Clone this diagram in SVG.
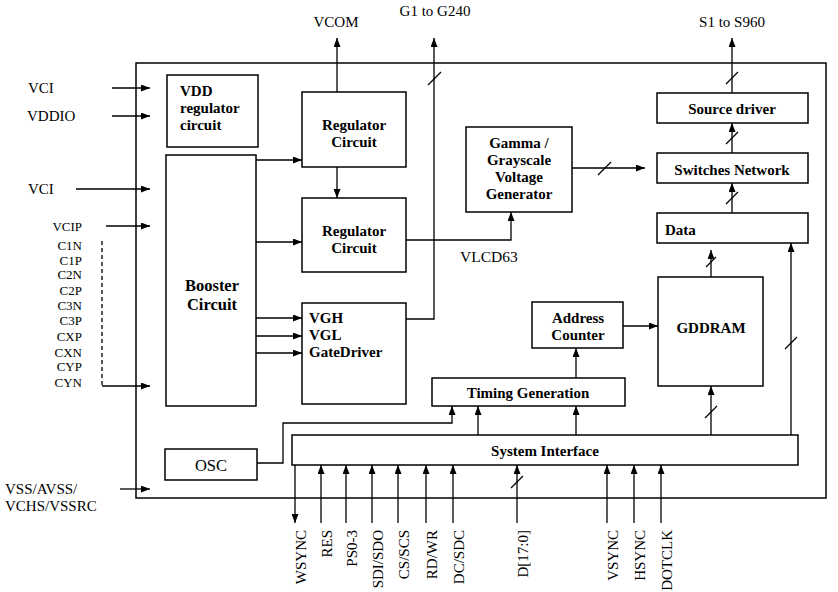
<svg xmlns="http://www.w3.org/2000/svg" width="838" height="592" viewBox="0 0 838 592">
<defs>
<marker id="ah" markerUnits="userSpaceOnUse" markerWidth="9" markerHeight="7" refX="9" refY="3.5" orient="auto">
<path d="M0,0 L9,3.5 L0,7 z" fill="#000"/>
</marker>
<style>
.box{fill:#fff;stroke:#000;stroke-width:1.5}
.ln{fill:none;stroke:#000;stroke-width:1.3}
.ar{fill:none;stroke:#000;stroke-width:1.3;marker-end:url(#ah)}
.b{font-family:"Liberation Serif","Times New Roman",serif;font-weight:bold;font-size:15px;fill:#000}
.t{font-family:"Liberation Serif","Times New Roman",serif;font-size:15px;fill:#000}
.s{font-family:"Liberation Serif","Times New Roman",serif;font-size:13px;fill:#000}
.big{font-size:16.5px}
.mid{font-size:15.5px}
.c{text-anchor:middle}
.e{text-anchor:end}
</style>
</defs>
<rect width="838" height="592" fill="#fff"/>
<rect x="136" y="63" width="690" height="435" class="box"/>

<g id="vdd_reg"><rect x="167" y="75" width="91" height="72" class="box"/>
<text class="b" x="180" y="96">VDD</text><text class="b" x="180" y="113">regulator</text><text class="b" x="180" y="130">circuit</text></g>
<g id="booster"><rect x="166" y="155" width="90" height="251" class="box"/>
<text class="b c big" x="212" y="291">Booster</text><text class="b c big" x="212" y="310">Circuit</text></g>
<g id="osc"><rect x="165" y="449" width="92" height="31" class="box"/><text class="t c big" x="211" y="471">OSC</text></g>
<g id="reg1"><rect x="302" y="92" width="104" height="75" class="box"/>
<text class="b c" x="354" y="130">Regulator</text><text class="b c" x="354" y="147">Circuit</text></g>
<g id="reg2"><rect x="302" y="198" width="104" height="74" class="box"/>
<text class="b c" x="354" y="236">Regulator</text><text class="b c" x="354" y="253">Circuit</text></g>
<g id="gate"><rect x="302" y="303" width="104" height="101" class="box"/>
<text class="b" x="309" y="323">VGH</text><text class="b" x="309" y="340">VGL</text><text class="b" x="309" y="357">GateDriver</text></g>
<g id="gamma"><rect x="466" y="127" width="106" height="85" class="box"/>
<text class="b c" x="519" y="148">Gamma /</text><text class="b c" x="519" y="165">Grayscale</text><text class="b c" x="519" y="182">Voltage</text><text class="b c" x="519" y="199">Generator</text></g>
<g id="source"><rect x="657" y="93" width="151" height="30" class="box"/><text class="b c" x="732" y="114">Source driver</text></g>
<g id="switches"><rect x="657" y="153" width="151" height="30" class="box"/><text class="b c" x="732" y="175">Switches Network</text></g>
<g id="data"><rect x="657" y="213" width="151" height="30" class="box"/><text class="b" x="665" y="235">Data</text></g>
<g id="gddram"><rect x="658" y="277" width="105" height="109" class="box"/><text class="b c" x="711" y="333">GDDRAM</text></g>
<g id="addr"><rect x="532" y="302" width="91" height="46" class="box"/>
<text class="b c" x="578" y="323">Address</text><text class="b c" x="578" y="340">Counter</text></g>
<g id="timing"><rect x="432" y="378" width="193" height="28" class="box"/><text class="b c" x="528" y="398">Timing Generation</text></g>
<g id="sysif"><rect x="292" y="435" width="506" height="30" class="box"/><text class="b c" x="545" y="456">System Interface</text></g>

<g id="labels">
<text class="t" x="28" y="93">VCI</text>
<text class="t" x="27" y="121">VDDIO</text>
<text class="t" x="28" y="194">VCI</text>
<text class="s e" x="82" y="231">VCIP</text>
<text class="s e" x="82" y="250">C1N</text>
<text class="s e" x="82" y="265">C1P</text>
<text class="s e" x="82" y="279">C2N</text>
<text class="s e" x="82" y="295">C2P</text>
<text class="s e" x="82" y="310">C3N</text>
<text class="s e" x="82" y="325">C3P</text>
<text class="s e" x="82" y="341">CXP</text>
<text class="s e" x="82" y="357">CXN</text>
<text class="s e" x="82" y="371">CYP</text>
<text class="s e" x="82" y="387">CYN</text>
<text class="t" x="5" y="494">VSS/AVSS/</text>
<text class="t" x="5" y="511">VCHS/VSSRC</text>
<text class="t c" x="336" y="27">VCOM</text>
<text class="t c" x="435" y="16">G1 to G240</text>
<text class="t c" x="732" y="27">S1 to S960</text>
<text class="t mid" x="460" y="262">VLCD63</text>
<g class="t e">
<text transform="translate(306,530) rotate(-90)">WSYNC</text>
<text transform="translate(332,530) rotate(-90)">RES</text>
<text transform="translate(357,530) rotate(-90)">PS0-3</text>
<text transform="translate(383,530) rotate(-90)">SDI/SDO</text>
<text transform="translate(409,530) rotate(-90)">CS/SCS</text>
<text transform="translate(437,530) rotate(-90)">RD/WR</text>
<text transform="translate(464,530) rotate(-90)">DC/SDC</text>
<text transform="translate(528,530) rotate(-90)">D[17:0]</text>
<text transform="translate(618,530) rotate(-90)">VSYNC</text>
<text transform="translate(645,530) rotate(-90)">HSYNC</text>
<text transform="translate(672,530) rotate(-90)">DOTCLK</text>
</g>
</g>

<g id="connectors">
<path class="ar" d="M112,88 H150"/>
<path class="ar" d="M112,116 H150"/>
<path class="ar" d="M76,189 H150"/>
<path class="ar" d="M106,226 H150"/>
<path class="ln" d="M102,241 V386" stroke-dasharray="4,3"/>
<path class="ar" d="M102,386 H150"/>
<path class="ar" d="M120,489 H150"/>
<path class="ar" d="M256,160 H302"/>
<path class="ar" d="M256,242 H302"/>
<path class="ar" d="M256,318 H302"/>
<path class="ar" d="M256,336 H302"/>
<path class="ar" d="M256,353 H302"/>
<path class="ar" d="M337,92 V38"/>
<path class="ar" d="M337,167 V198"/>
<path class="ar" d="M406,240 H511 V212"/>
<path class="ar" d="M406,319 H434 V38"/>
<path class="ln" d="M428,85 L441,72"/>
<path class="ar" d="M572,168 H645"/>
<path class="ln" d="M598,175 L611,162"/>
<path class="ar" d="M732,93 V38"/>
<path class="ln" d="M726,84 L738,72"/>
<path class="ar" d="M732,153 V123"/>
<path class="ln" d="M726,144 L738,132"/>
<path class="ar" d="M732,213 V183"/>
<path class="ln" d="M726,204 L738,192"/>
<path class="ar" d="M711,277 V250"/>
<path class="ln" d="M706,267 L716,257"/>
<path class="ar" d="M791,435 V243"/>
<path class="ln" d="M785,349 L797,337"/>
<path class="ar" d="M623,326 H658"/>
<path class="ar" d="M576,378 V348"/>
<path class="ar" d="M478,435 V406"/>
<path class="ar" d="M576,435 V406"/>
<path class="ar" d="M257,463 H283 V423 H452 V406"/>
<path class="ar" d="M711,435 V386"/>
<path class="ln" d="M705,418 L717,406"/>
<path class="ar" d="M295,465 V523"/>
<path class="ar" d="M321,523 V465"/>
<path class="ar" d="M346,523 V465"/>
<path class="ar" d="M372,523 V465"/>
<path class="ar" d="M398,523 V465"/>
<path class="ar" d="M426,523 V465"/>
<path class="ar" d="M453,523 V465"/>
<path class="ar" d="M517,523 V465"/>
<path class="ln" d="M511,488 L523,476"/>
<path class="ar" d="M607,523 V465"/>
<path class="ar" d="M634,523 V465"/>
<path class="ar" d="M661,523 V465"/>
</g>
</svg>
